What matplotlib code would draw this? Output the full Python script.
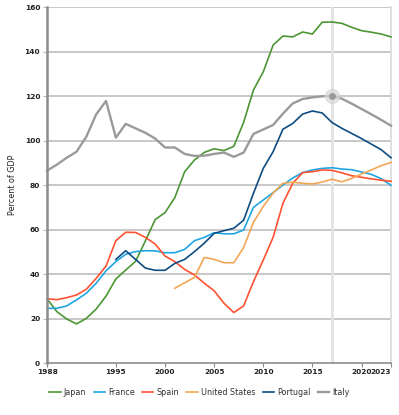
import matplotlib
matplotlib.use('Agg')
import matplotlib.pyplot as plt
import numpy as np

years = list(range(1988, 2024))

japan = [28.9, 23.2, 19.9, 17.7, 20.2, 24.4, 30.2, 37.9, 41.9, 45.8, 55.0, 64.6, 67.7, 74.5,
         86.1, 91.4, 94.8, 96.4, 95.6, 97.5, 108.3, 122.8, 131.0, 143.0, 147.1, 146.7, 148.9,
         148.0, 153.3, 153.4, 152.8, 151.0, 149.5, 148.8, 148.0, 146.7]
france = [24.7, 24.7, 25.8, 28.5, 31.5, 36.0, 41.6, 45.7, 49.0, 50.2, 50.6, 50.5, 49.7, 49.7,
          51.2, 55.1, 56.6, 58.7, 58.2, 58.2, 59.9, 70.1, 73.4, 76.7, 80.1, 83.3, 85.7, 86.9,
          87.6, 87.9, 87.3, 87.0, 86.0, 84.9, 83.0, 80.0]
spain = [29.0, 28.6, 29.5, 30.7, 33.3, 38.2, 43.7, 55.1, 58.9, 58.8, 56.6, 53.6, 48.2, 45.7,
         42.2, 39.7, 36.0, 32.6, 27.0, 22.8, 25.8, 36.7, 46.4, 56.6, 71.9, 80.9, 85.7, 86.1,
         86.9, 86.7, 85.6, 84.3, 83.6, 82.9, 82.3, 81.8]
usa_years = list(range(2001, 2024))
usa = [33.7, 36.2, 38.6, 47.6, 46.7, 45.2, 45.2, 52.0, 63.4, 70.5, 76.5, 80.9, 81.4, 80.9,
       80.6, 81.5, 82.7, 81.6, 83.1, 85.1, 86.9, 88.8, 90.3]
portugal_years = list(range(1995, 2024))
portugal = [46.7, 50.6, 46.7, 42.8, 41.8, 41.8, 44.9, 46.7, 50.2, 54.0, 58.4, 59.6, 60.7, 64.3,
            76.4, 87.6, 95.1, 105.2, 107.8, 112.0, 113.4, 112.5, 108.2, 105.6, 103.3, 101.0,
            98.5, 96.0, 92.4]
italy = [86.6, 89.3, 92.4, 95.1, 101.9, 111.9, 117.9, 101.4, 107.6, 105.6, 103.6, 101.0, 97.0,
         97.0, 94.1, 93.2, 93.3, 94.1, 94.7, 92.8, 94.7, 103.1, 105.1, 107.1, 112.2, 116.8,
         118.8, 119.5, 120.0, 120.2, 118.9, 116.7, 114.3, 111.9, 109.4, 106.8]

xticks = [1988, 1995, 2000, 2005, 2010, 2015, 2020, 2023]
hover_year = 2017

fig = plt.figure(figsize=(3.99, 4.15), dpi=100)
ax = fig.add_axes([0.118, 0.1246, 0.862, 0.8578])

# gridlines first so lines sit on top
for v in range(20, 161, 20):
    ax.axhline(v, color='#c4c4c4', lw=1.3, zorder=0)
ax.axvline(2023, color='#dcdcdc', lw=1.2, zorder=0, clip_on=False)
ax.axvline(hover_year, color='#e2e2e2', lw=2.0, zorder=0)

lw = 1.2
ax.plot(years, japan, color='#4b9632', lw=lw, label='Japan', clip_on=False)
ax.plot(years, france, color='#1fa6e3', lw=lw, label='France', clip_on=False)
ax.plot(years, spain, color='#ff5232', lw=lw, label='Spain', clip_on=False)
ax.plot(usa_years, usa, color='#f3a755', lw=lw, label='United States', clip_on=False)
ax.plot(portugal_years, portugal, color='#0e4c82', lw=lw, label='Portugal', clip_on=False)
ax.plot(years, italy, color='#9a9a9a', lw=1.7, label='Italy', clip_on=False)

# hover marker on Italy
iy = italy[years.index(hover_year)]
ax.plot([hover_year], [iy], 'o', color='#d8d8d8', ms=10, alpha=0.7, zorder=4)
ax.plot([hover_year], [iy], 'o', color='#999999', ms=4, zorder=5)

ax.set_xlim(1988, 2023)
ax.set_ylim(0, 160)
ax.set_xticks(xticks)
ax.set_yticks(range(0, 161, 20))
ax.tick_params(axis='both', labelsize=5.3, length=3, width=0.8, pad=1)
for lbl in ax.get_xticklabels() + ax.get_yticklabels():
    lbl.set_fontweight('bold')
ax.get_xticklabels()[-1].set_horizontalalignment('right')
ax.tick_params(axis='x', colors='#888888', labelcolor='#222222')
ax.tick_params(axis='y', colors='#bbbbbb', labelcolor='#222222', pad=2)

for s in ['top', 'right']:
    ax.spines[s].set_visible(False)
ax.spines['left'].set_color('#8c8c8c')
ax.spines['left'].set_linewidth(1.8)
ax.spines['bottom'].set_color('#8c8c8c')
ax.spines['bottom'].set_linewidth(1.2)

ax.set_ylabel('Percent of GDP', fontsize=5.8, color='#222222')
ax.yaxis.set_label_coords(-0.087, 0.5)

leg = fig.legend(loc='center', bbox_to_anchor=(0.5, 0.055), ncol=6, frameon=False,
                 fontsize=5.8, handlelength=1.4, handletextpad=0.4, columnspacing=0.9)
for t in leg.get_texts():
    t.set_color('#333333')

fig.savefig('out.png', dpi=100)
